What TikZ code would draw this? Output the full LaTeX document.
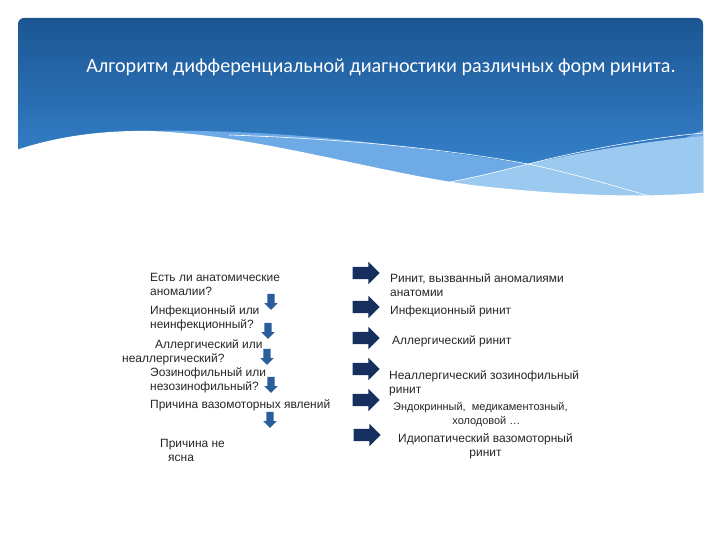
\documentclass[tikz,border=0pt]{standalone}
\usepackage{fontspec}
\setmainfont{Liberation Sans}
\newfontfamily\titlefont{Carlito}
\usetikzlibrary{shapes.arrows}

\definecolor{hdrtop}{HTML}{1B5693}
\definecolor{hdrbot}{HTML}{3C8CD8}
\definecolor{wavemid}{HTML}{6EAAE6}
\definecolor{wavepale}{HTML}{9CC9F0}
\definecolor{txtgray}{HTML}{262626}
\definecolor{downblue}{HTML}{2C5D9B}
\definecolor{navy}{HTML}{15305E}

\begin{document}
\begin{tikzpicture}[x=1bp,y=-1bp,
  txt/.style={anchor=north west,inner sep=0pt,align=left,text=txtgray,
    font=\fontsize{12}{14}\selectfont},
  ctxt/.style={txt,align=center},
  downarr/.style={single arrow,rotate=-90,fill=downblue,draw=none,
    minimum height=16bp,inner xsep=0pt,inner ysep=3.5bp,single arrow head extend=3bp},
  rightarr/.style={single arrow,fill=navy,draw=none,
    minimum height=27bp,inner xsep=0pt,inner ysep=6bp,single arrow head extend=5bp}]
	\useasboundingbox (0,0) rectangle (720,540);
	\fill[white] (0,0) rectangle (720,540);
	% header
	\shade[top color=hdrtop,bottom color=hdrbot,rounded corners=6bp] (18,18) rectangle (703,205);
	\fill[wavemid] (140,131) .. controls (300,128) and (430,150) .. (528,164)
		.. controls (600,174) and (660,150) .. (703,130) -- (703,210) -- (140,210) -- cycle;
	\fill[wavepale] (440,184) .. controls (480,176) .. (528,164)
		.. controls (600,148) and (660,140) .. (703,136) -- (703,210) -- (440,210) -- cycle;
	\fill[white] (0,156) .. controls (40,140) and (90,130) .. (150,131)
		.. controls (260,135) and (380,174) .. (480,186)
		.. controls (580,197) and (660,198) .. (720,191) -- (720,540) -- (0,540) -- cycle;
	\draw[white,line width=0.6bp] (229,135) .. controls (380,140) and (480,155) .. (528,164)
		.. controls (580,175) and (620,188) .. (650,196);
	\draw[white,line width=0.6bp] (440,184) .. controls (480,176) .. (528,164)
		.. controls (600,146) and (660,137) .. (703,133);
	\node[text=white,font=\titlefont\fontsize{20.2}{22}\selectfont] (title) at (381,67)
		{Алгоритм дифференциальной диагностики различных форм ринита.};

	% questions
	\node[txt] (q1) at (150,273) {Есть ли анатомические\\аномалии?};
	\node[txt] (q2) at (150,305) {Инфекционный или\\неинфекционный?};
	\node[txt] (q3) at (122,339) {\hspace*{33bp}Аллергический или\\неаллергический?};
	\node[txt] (q4) at (150,367) {Эозинофильный или\\незозинофильный?};
	\node[txt] (q5) at (150,399) {Причина вазомоторных явлений};
	\node[txt] (q6) at (160,439) {Причина не\\\hspace*{8bp}ясна};

	% answers
	\node[txt] (a1) at (390,273) {Ринит, вызванный аномалиями\\анатомии};
	\node[txt] (a2) at (390,305) {Инфекционный ринит};
	\node[txt] (a3) at (392,335) {Аллергический ринит};
	\node[txt] (a4) at (389,370) {Неаллергический зозинофильный\\ринит};
	\node[ctxt,font=\fontsize{11}{14}\selectfont] (a5) at (393,402)
		{Эндокринный,\ \ медикаментозный,\\\hspace*{12bp}холодовой \ldots};
	\node[ctxt] (a6) at (398,433) {Идиопатический вазомоторный\\ринит};

	% arrows
	\node[downarr] (d1) at (271,300) {};
	\node[downarr] (d2) at (268,329) {};
	\node[downarr] (d3) at (267,355) {};
	\node[downarr] (d4) at (271,383) {};
	\node[downarr] (d5) at (270,418) {};
	\node[rightarr] (r1) at (363,273) {};
	\node[rightarr] (r2) at (363,307) {};
	\node[rightarr] (r3) at (363,338) {};
	\node[rightarr] (r4) at (363,369) {};
	\node[rightarr] (r5) at (363,400) {};
	\node[rightarr] (r6) at (364,435) {};
\end{tikzpicture}
\end{document}
